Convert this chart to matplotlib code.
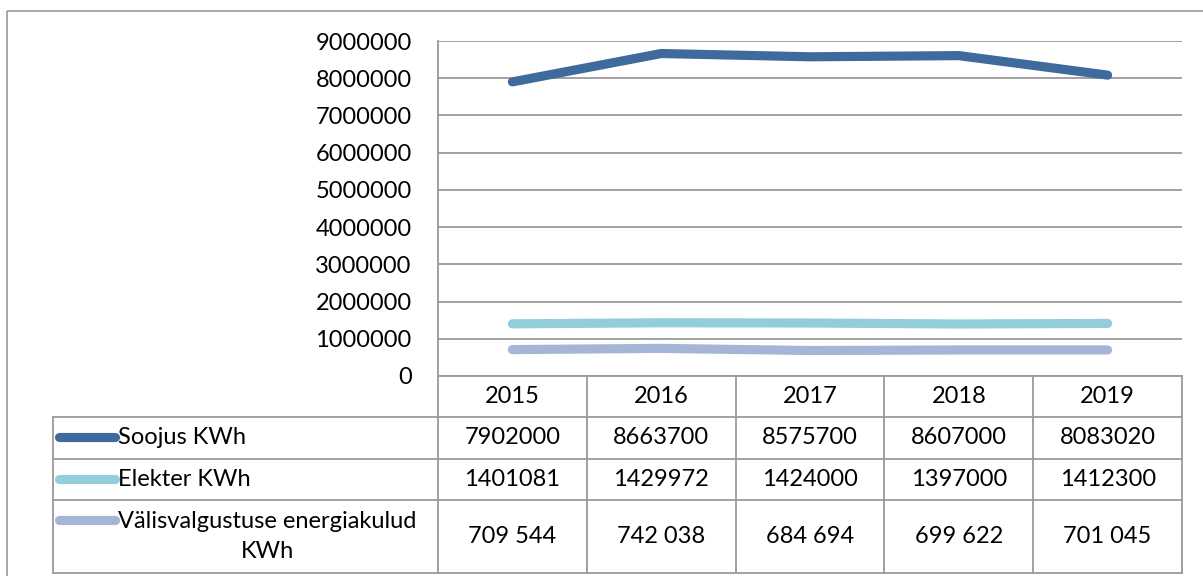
import matplotlib.pyplot as plt
from matplotlib.lines import Line2D
from matplotlib.patches import Rectangle

# andmed
aastad = ['2015', '2016', '2017', '2018', '2019']
seeriad = ['Soojus KWh', 'Elekter KWh', 'Välisvalgustuse energiakulud\nKWh']
soojus = [7902000, 8663700, 8575700, 8607000, 8083020]
elekter = [1401081, 1429972, 1424000, 1397000, 1412300]
valis = [709544, 742038, 684694, 699622, 701045]
y_tickid = [0, 1000000, 2000000, 3000000, 4000000, 5000000, 6000000,
            7000000, 8000000, 9000000]

varvid = ['#3e6a9c', '#92cddc', '#a5b5d6']
hall = '#9a9a9a'
plt.rcParams['font.family'] = ['Lato', 'DejaVu Sans']
fs = 17

W, H = 1203, 576
fig = plt.figure(figsize=(W / 100, H / 100), dpi=100)

# joonise ala (pikslites)
x0, x1, y_top, y_zero = 438, 1182, 41, 376
ax = fig.add_axes([x0 / W, 1 - y_zero / H, (x1 - x0) / W, (y_zero - y_top) / H])
n = len(aastad)
xs = range(n)
for vals, c in zip([soojus, elekter, valis], varvid):
    ax.plot(xs, vals, color=c, lw=6.6, solid_capstyle='round', zorder=3)
ax.set_xlim(-0.5, n - 0.5)
ax.set_ylim(0, 9000000)
ax.set_yticks(y_tickid)
ax.set_yticklabels([str(v) for v in y_tickid], fontsize=fs)
ax.set_xticks([])
ax.tick_params(axis='y', length=0, pad=19)
ax.grid(axis='y', color=hall, lw=1.3)
for s in ['top', 'right', 'bottom']:
    ax.spines[s].set_visible(False)
ax.spines['left'].set_color(hall)
ax.spines['left'].set_linewidth(1.3)

# tabel + raam, pikslikoordinaadid
tab = fig.add_axes([0, 0, 1, 1])
tab.set_xlim(0, W)
tab.set_ylim(H, 0)
tab.axis('off')
tab.add_patch(Rectangle((7, 11), W + 10, H + 10, fill=False, ec=hall, lw=1.2))

col_w = (x1 - x0) / n
ridad = [376, 417, 459, 500, 573]
tab_left = 53

tab.plot([x0, x1], [ridad[0], ridad[0]], color=hall, lw=1.3)
for r in ridad[1:]:
    tab.plot([tab_left, x1], [r, r], color=hall, lw=1.3)
tab.plot([tab_left, tab_left], [ridad[1], ridad[-1]], color=hall, lw=1.3)
for i in range(n + 1):
    xv = x0 + i * col_w
    tab.plot([xv, xv], [ridad[0], ridad[-1]], color=hall, lw=1.3)

for i, a in enumerate(aastad):
    tab.text(x0 + (i + 0.5) * col_w, (ridad[0] + ridad[1]) / 2, a,
             ha='center', va='center', fontsize=fs)

tekst_vals = [
    [str(v) for v in soojus],
    [str(v) for v in elekter],
    ['{:,}'.format(v).replace(',', ' ') for v in valis],
]
rea_y = [437, 479, 520]
for k in range(3):
    ymid = (ridad[k + 1] + ridad[k + 2]) / 2
    tab.add_line(Line2D([59, 115], [rea_y[k], rea_y[k]], color=varvid[k],
                        lw=6.6, solid_capstyle='round'))
    tab.text(118, ymid, seeriad[k], ha='left', va='center', fontsize=fs,
             multialignment='center', linespacing=1.5)
    for i, t in enumerate(tekst_vals[k]):
        tab.text(x0 + (i + 0.5) * col_w, ymid, t, ha='center', va='center',
                 fontsize=fs)

plt.savefig('out.png', dpi=100)
plt.close()
